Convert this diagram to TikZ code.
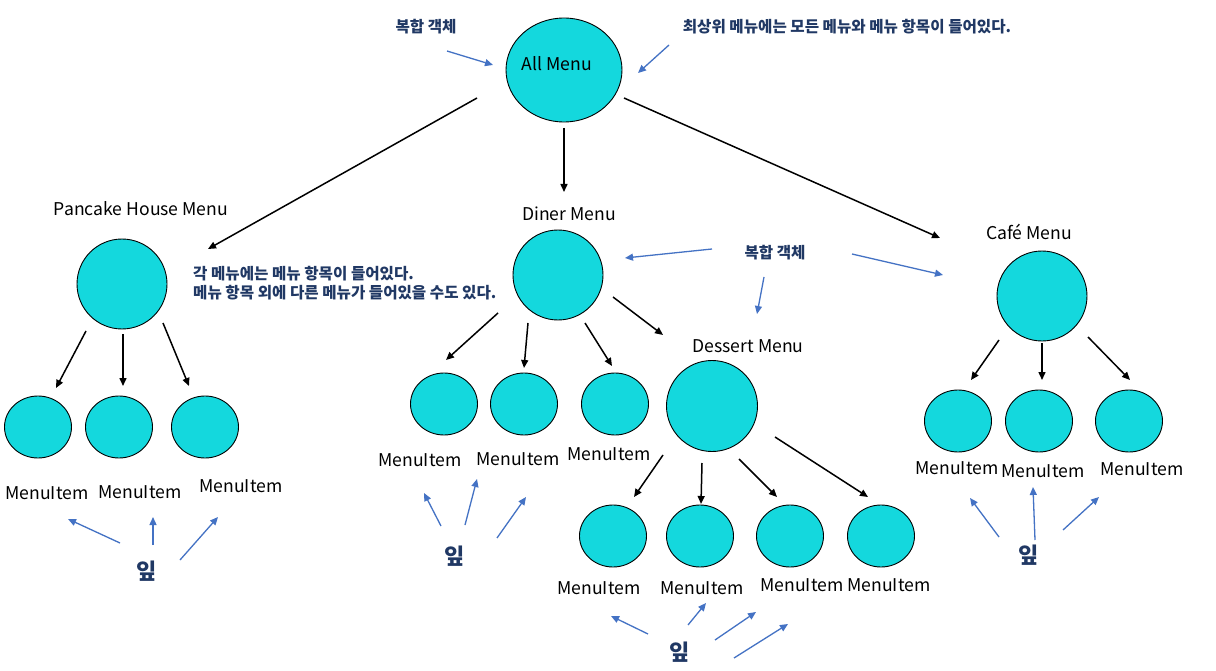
\documentclass[tikz,border=0pt]{standalone}
\usepackage{fontspec}
\setmainfont{Noto Sans CJK KR}
\usetikzlibrary{shapes.geometric,arrows.meta,calc}
\definecolor{cy}{HTML}{14D8DD}
\definecolor{bl}{HTML}{4472C4}
\definecolor{nv}{HTML}{203864}
\begin{document}
\begin{tikzpicture}[x=1pt,y=-1pt,
 big/.style={circle,draw=black,line width=0.9pt,fill=cy,minimum size=90pt,inner sep=0},
 sm/.style={ellipse,draw=black,line width=0.9pt,fill=cy,minimum width=67pt,minimum height=62pt,inner sep=0},
 lbl/.style={font=\fontsize{17.6}{20}\selectfont,inner sep=0},
 ko/.style={font=\fontsize{15.6}{19}\selectfont\bfseries,text=nv,inner sep=0,align=left},
 leaftxt/.style={font=\fontsize{22}{24}\selectfont\bfseries,text=nv,inner sep=0},
 arr/.style={-{Triangle[length=8pt,width=7pt]},line width=1.5pt},
 barr/.style={-{Triangle[length=8pt,width=7pt]},line width=1.3pt,draw=bl},
]
\useasboundingbox (0,0) rectangle (1216,671);
\fill[white] (0,0) rectangle (1216,671);

% composite nodes
\node[ellipse,draw=black,line width=0.9pt,fill=cy,minimum width=116pt,minimum height=104pt,inner sep=0] (all) at (564,70) {};
\node[lbl] (allt) at (557,64) {All Menu};
\node[big] (pan) at (122,284) {};
\node[lbl] (pant) at (141,209) {Pancake House Menu};
\node[big] (din) at (558,275) {};
\node[lbl] (dint) at (569,214) {Diner Menu};
\node[big] (cafe) at (1042,296) {};
\node[lbl] (cafet) at (1029,232) {Café Menu};
\node[big,minimum size=91pt] (des) at (712,406) {};
\node[lbl] (dest) at (748,346) {Dessert Menu};

% leaves
\node[sm] (p1) at (38,427) {};
\node[sm] (p2) at (119,427) {};
\node[sm] (p3) at (205,427) {};
\node[sm] (d1) at (444,404) {};
\node[sm] (d2) at (524,404) {};
\node[sm] (d3) at (615,404) {};
\node[sm] (e1) at (613,536) {};
\node[sm] (e2) at (700,536) {};
\node[sm] (e3) at (790,536) {};
\node[sm] (e4) at (881,536) {};
\node[sm] (c1) at (958,421) {};
\node[sm] (c2) at (1039,421) {};
\node[sm] (c3) at (1129,421) {};

% leaf labels
\node[lbl] (lp1) at (47,493) {MenuItem};
\node[lbl] (lp2) at (140,492) {MenuItem};
\node[lbl] (lp3) at (241,486) {MenuItem};
\node[lbl] (ld1) at (420,460) {MenuItem};
\node[lbl] (ld2) at (518,459) {MenuItem};
\node[lbl] (ld3) at (609,454) {MenuItem};
\node[lbl] (le1) at (599,588) {MenuItem};
\node[lbl] (le2) at (702,588) {MenuItem};
\node[lbl] (le3) at (802,585) {MenuItem};
\node[lbl] (le4) at (889,585) {MenuItem};
\node[lbl] (lc1) at (957,468) {MenuItem};
\node[lbl] (lc2) at (1043,471) {MenuItem};
\node[lbl] (lc3) at (1142,469) {MenuItem};

% annotations
\node[ko] (k1) at (426,27) {복합 객체};
\node[ko] (k2) at (847,27) {최상위 메뉴에는 모든 메뉴와 메뉴 항목이 들어있다.};
\node[ko,anchor=west] (k3) at (193,283) {각 메뉴에는 메뉴 항목이 들어있다.\\메뉴 항목 외에 다른 메뉴가 들어있을 수도 있다.};
\node[ko] (k4) at (775,253) {복합 객체};
\node[leaftxt] (lf1) at (147,571) {잎};
\node[leaftxt] (lf2) at (455,556) {잎};
\node[leaftxt] (lf3) at (680,652) {잎};
\node[leaftxt] (lf4) at (1029,555) {잎};

% black connectors
\draw[arr] ($(all)+(-87,28)$) -- ($(pan)+(86,-35)$);
\draw[arr] ($(all)+(0,58)$) -- ($(din)+(6,-83)$);
\draw[arr] ($(all)+(60,28)$) -- ($(cafe)+(-102,-58)$);

\draw[arr] ($(pan)+(-36,47)$) -- ($(p1)+(18,-39)$);
\draw[arr] ($(pan)+(1,50)$) -- ($(p2)+(4,-41)$);
\draw[arr] ($(pan)+(41,39)$) -- ($(p3)+(-16,-41)$);

\draw[arr] ($(din)+(-60,38)$) -- ($(d1)+(2,-44)$);
\draw[arr] ($(din)+(-30,48)$) -- ($(d2)+(0,-36)$);
\draw[arr] ($(din)+(27,48)$) -- ($(d3)+(-3,-38)$);
\draw[arr] ($(din)+(55,22)$) -- ($(des)+(-49,-71)$);

\draw[arr] ($(des)+(-49,49)$) -- ($(e1)+(21,-39)$);
\draw[arr] ($(des)+(-10,57)$) -- ($(e2)+(1,-32)$);
\draw[arr] ($(des)+(27,53)$) -- ($(e3)+(-13,-39)$);
\draw[arr] ($(des)+(63,31)$) -- ($(e4)+(-13,-39)$);

\draw[arr] ($(cafe)+(-43,44)$) -- ($(c1)+(13,-41)$);
\draw[arr] ($(cafe)+(0,47)$) -- ($(c2)+(3,-41)$);
\draw[arr] ($(cafe)+(46,41)$) -- ($(c3)+(1,-41)$);

% blue pointers
\draw[barr] ($(k1)+(21,24)$) -- ($(all)+(-71,-5)$);
\draw[barr] ($(k2)+(-178,18)$) -- ($(all)+(74,3)$);
\draw[barr] ($(k4)+(-63,-4)$) -- ($(din)+(67,-17)$);
\draw[barr] ($(k4)+(-11,24)$) -- ($(des)+(45,-92)$);
\draw[barr] ($(k4)+(77,1)$) -- ($(cafe)+(-99,-21)$);

\draw[barr] ($(lf1)+(-27,-28)$) -- ($(lp1)+(21,26)$);
\draw[barr] ($(lf1)+(6,-26)$) -- ($(lp2)+(13,25)$);
\draw[barr] ($(lf1)+(33,-11)$) -- ($(lp3)+(-23,31)$);

\draw[barr] ($(lf2)+(-14,-30)$) -- ($(ld1)+(4,33)$);
\draw[barr] ($(lf2)+(10,-31)$) -- ($(ld2)+(-41,20)$);
\draw[barr] ($(lf2)+(42,-18)$) -- ($(ld2)+(8,38)$);

\draw[barr] ($(lf3)+(-32,-18)$) -- ($(le1)+(12,28)$);
\draw[barr] ($(lf3)+(8,-27)$) -- ($(le2)+(4,15)$);
\draw[barr] ($(lf3)+(35,-12)$) -- ($(le3)+(-46,27)$);
\draw[barr] ($(lf3)+(54,6)$) -- ($(le3)+(-14,39)$);

\draw[barr] ($(lf4)+(-30,-18)$) -- ($(lc1)+(13,30)$);
\draw[barr] ($(lf4)+(6,-15)$) -- ($(lc2)+(-10,16)$);
\draw[barr] ($(lf4)+(34,-25)$) -- ($(lc3)+(-43,28)$);
\end{tikzpicture}
\end{document}
